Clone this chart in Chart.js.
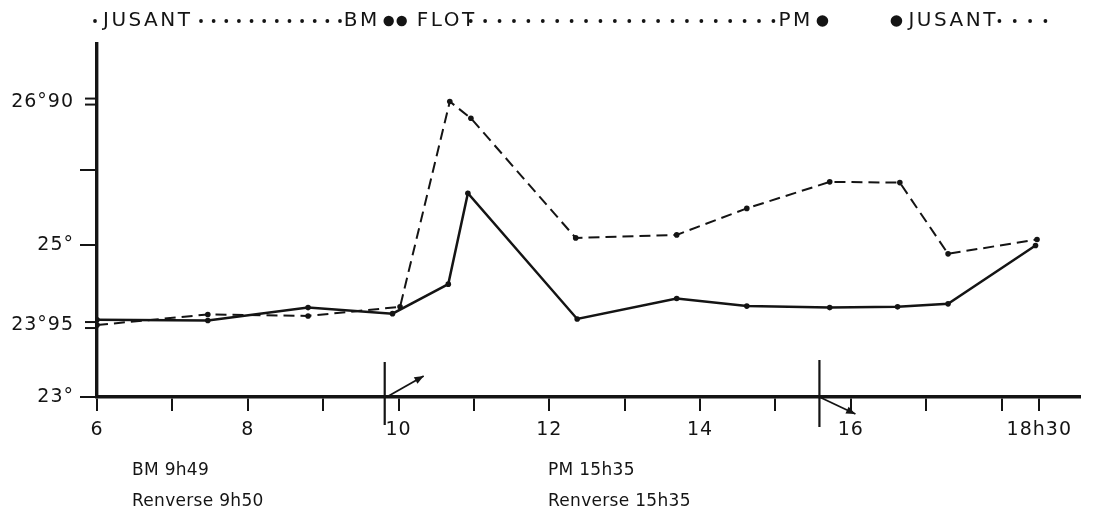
<!DOCTYPE html>
<html>
<head>
<meta charset="utf-8">
<script src="https://cdn.jsdelivr.net/npm/chart.js@4.4.1/dist/chart.umd.min.js"></script>
<style>
  html, body { margin: 0; padding: 0; background: #fff; }
  #wrap { width: 1093px; height: 515px; position: relative; }
</style>
</head>
<body>
<div id="wrap"><canvas id="c" width="1093" height="515"></canvas></div>
<script>
// Water temperature over the day (hours, °C)
const hoursSolid  = [6.0, 7.47, 8.80, 9.92, 10.66, 10.92, 12.37, 13.69, 14.62, 15.72, 16.62, 17.29, 18.45];
const tempSolid   = [24.02, 24.01, 24.18, 24.10, 24.49, 25.69, 24.03, 24.30, 24.20, 24.18, 24.19, 24.23, 25.0];
const hoursDashed = [6.0, 7.47, 8.80, 10.02, 10.68, 10.96, 12.35, 13.69, 14.62, 15.72, 16.65, 17.29, 18.47];
const tempDashed  = [23.95, 24.09, 24.07, 24.19, 26.9, 26.68, 25.10, 25.14, 25.49, 25.84, 25.83, 24.89, 25.08];

// Axis ticks
const hourTicks  = [6, 7, 8, 9, 10, 11, 12, 13, 14, 15, 16, 17, 18, 18.5];
const hourLabels = { 6: '6', 8: '8', 10: '10', 12: '12', 14: '14', 16: '16', 18.5: '18h30' };
const tempTicks  = [23, 23.95, 25, 26, 26.9];
const tempLabels = ['23°', '23°95', '25°', '', '26°90'];
const doubleTicks = [23.95, 26.9];

// Tide events
const lowTide  = 9 + 49 / 60;   // BM 9h49
const highTide = 15 + 35 / 60;  // PM 15h35
const notesLow  = ['BM 9h49', 'Renverse 9h50'];
const notesHigh = ['PM 15h35', 'Renverse 15h35'];

const INK = '#141414';
const FONT = '"DejaVu Sans", "Liberation Sans", sans-serif';

function toPoints(xs, ys) { return xs.map((x, i) => ({ x, y: ys[i] })); }

const decor = {
  id: 'decor',
  beforeDraw(chart) {
    chart.ctx.letterSpacing = '1px';
  },
  afterDraw(chart) {
    const ctx = chart.ctx;
    const xs = chart.scales.x, ys = chart.scales.y;
    const axisY = ys.getPixelForValue(23);
    const left = xs.left;
    ctx.save();
    ctx.strokeStyle = INK;
    ctx.fillStyle = INK;

    // double tick marks
    ctx.lineWidth = 2;
    doubleTicks.forEach(v => {
      const py = ys.getPixelForValue(v);
      [-3, 3].forEach(o => {
        ctx.beginPath();
        ctx.moveTo(left - 12, py + o);
        ctx.lineTo(left, py + o);
        ctx.stroke();
      });
    });

    // tide markers with current-reversal arrows
    function arrow(x0, y0, x1, y1) {
      ctx.beginPath();
      ctx.moveTo(x0, y0);
      ctx.lineTo(x1, y1);
      ctx.lineWidth = 1.8;
      ctx.stroke();
      const a = Math.atan2(y1 - y0, x1 - x0);
      const L = 10, w = 0.38;
      ctx.beginPath();
      ctx.moveTo(x1, y1);
      ctx.lineTo(x1 - L * Math.cos(a - w), y1 - L * Math.sin(a - w));
      ctx.lineTo(x1 - L * Math.cos(a + w), y1 - L * Math.sin(a + w));
      ctx.closePath();
      ctx.fill();
    }
    const bmX = xs.getPixelForValue(lowTide);
    const pmX = xs.getPixelForValue(highTide);
    ctx.lineWidth = 2.2;
    ctx.beginPath();
    ctx.moveTo(bmX, axisY - 35); ctx.lineTo(bmX, axisY + 28);
    ctx.moveTo(pmX, axisY - 37); ctx.lineTo(pmX, axisY + 30);
    ctx.stroke();
    arrow(bmX + 2, axisY, bmX + 39, axisY - 21);
    arrow(pmX, axisY, pmX + 36, axisY + 17);

    // tide banner
    ctx.font = '20px ' + FONT;
    ctx.letterSpacing = '2.5px';
    ctx.textBaseline = 'middle';
    ctx.textAlign = 'left';
    const by = 21;
    const dot = (x, r) => { ctx.beginPath(); ctx.arc(x, by, r, 0, Math.PI * 2); ctx.fill(); };
    const dots = (x0, x1, n) => { for (let i = 0; i < n; i++) dot(x0 + (x1 - x0) * i / (n - 1), 1.9); };
    dot(left - 2, 1.9);
    ctx.fillText('JUSANT', left + 6, by);
    dots(201, 340, 12);
    ctx.fillText('BM', bmX - 41, by);
    dot(bmX + 4, 5.2); dot(bmX + 17, 5.2);
    ctx.fillText('FLOT', bmX + 32, by);
    dots(bmX + 86, pmX - 46, 22);
    ctx.fillText('PM', pmX - 41, by);
    dot(pmX + 3, 5.8);
    dot(pmX + 77, 5.8);
    ctx.fillText('JUSANT', pmX + 89, by);
    dots(pmX + 180, pmX + 226, 4);

    // tide notes
    ctx.font = '17px ' + FONT;
    ctx.letterSpacing = '0.3px';
    ctx.fillText(notesLow[0], 132, 471);
    ctx.fillText(notesLow[1], 132, 502);
    ctx.fillText(notesHigh[0], 548, 471);
    ctx.fillText(notesHigh[1], 548, 502);
    ctx.restore();
  }
};

new Chart(document.getElementById('c'), {
  type: 'line',
  data: {
    datasets: [
      {
        data: toPoints(hoursSolid, tempSolid),
        borderColor: INK, backgroundColor: INK,
        borderWidth: 2.5, pointRadius: 2.8, pointBorderWidth: 0,
        tension: 0
      },
      {
        data: toPoints(hoursDashed, tempDashed),
        borderColor: INK, backgroundColor: INK,
        borderWidth: 2, borderDash: [11, 6], pointRadius: 2.8, pointBorderWidth: 0,
        tension: 0
      }
    ]
  },
  options: {
    responsive: false,
    animation: false,
    layout: { padding: { top: 44, right: 13, left: 0, bottom: 0 } },
    plugins: { legend: { display: false }, tooltip: { enabled: false } },
    scales: {
      x: {
        type: 'linear', min: 6, max: 19.04,
        afterBuildTicks: s => { s.ticks = hourTicks.map(v => ({ value: v })); },
        afterFit: s => { s.height = 118; },
        ticks: {
          autoSkip: false, maxRotation: 0, padding: 8,
          color: INK, font: { family: FONT, size: 19 },
          callback: v => hourLabels[v] || ''
        },
        grid: { drawOnChartArea: false, drawTicks: true, tickLength: 14, color: INK, lineWidth: 2 },
        border: { display: true, color: INK, width: 3.4 }
      },
      y: {
        type: 'linear', min: 23, max: 27.66,
        afterBuildTicks: s => { s.ticks = tempTicks.map(v => ({ value: v })); },
        afterFit: s => { s.width = 97; },
        ticks: {
          autoSkip: false, padding: 6,
          color: INK, font: { family: FONT, size: 19 },
          callback: (v, i) => tempLabels[i]
        },
        grid: {
          drawOnChartArea: false, drawTicks: true, tickLength: 17, lineWidth: 2,
          color: c => (c.tick && doubleTicks.includes(c.tick.value)) ? 'rgba(0,0,0,0)' : INK
        },
        border: { display: true, color: INK, width: 3.4 }
      }
    }
  },
  plugins: [decor]
});
</script>
</body>
</html>
